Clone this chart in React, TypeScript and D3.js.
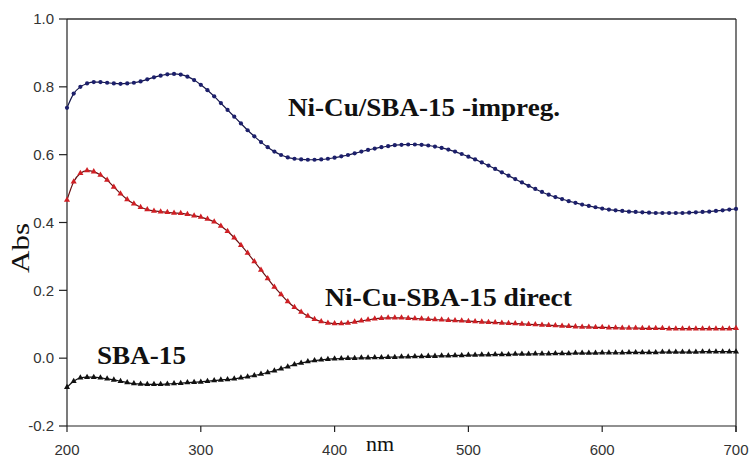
import React from 'react';
import * as d3 from 'd3';

// wavelength grid, 5 nm steps
const wavelengths = d3.range(200, 701, 5);

const impreg = [
  0.738, 0.78, 0.80, 0.81, 0.814, 0.814, 0.812, 0.81, 0.809, 0.81,
  0.812, 0.816, 0.822, 0.828, 0.833, 0.837, 0.838, 0.836, 0.83, 0.82,
  0.806, 0.79, 0.772, 0.752, 0.732, 0.712, 0.692, 0.672, 0.654, 0.637,
  0.622, 0.609, 0.599, 0.592, 0.588, 0.586, 0.585, 0.585, 0.586, 0.588,
  0.591, 0.595, 0.599, 0.604, 0.609, 0.614, 0.618, 0.622, 0.625, 0.628,
  0.629, 0.63, 0.63, 0.629, 0.627, 0.624, 0.62, 0.615, 0.609, 0.602,
  0.594, 0.586, 0.577, 0.568, 0.558, 0.548, 0.538, 0.528, 0.518, 0.508,
  0.499, 0.49, 0.482, 0.475, 0.469, 0.463, 0.458, 0.453, 0.449, 0.445,
  0.441, 0.438, 0.436, 0.434, 0.432, 0.431, 0.43, 0.429, 0.428, 0.428,
  0.428, 0.428, 0.428, 0.429, 0.43, 0.431, 0.432, 0.434, 0.436, 0.438,
  0.44,
];

const direct = [
  0.466, 0.52, 0.545, 0.553, 0.55, 0.54, 0.525, 0.505, 0.485, 0.468,
  0.455, 0.445, 0.438, 0.434, 0.432, 0.43, 0.428, 0.427, 0.424, 0.42,
  0.416, 0.41, 0.402, 0.39, 0.374, 0.355, 0.333, 0.31, 0.285, 0.26,
  0.235, 0.21, 0.188, 0.167, 0.15, 0.136, 0.124, 0.115, 0.108, 0.104,
  0.102, 0.102, 0.104, 0.107, 0.11, 0.113, 0.116, 0.118, 0.119, 0.119,
  0.119, 0.118, 0.117, 0.116, 0.115, 0.114, 0.113, 0.112, 0.111, 0.11,
  0.109, 0.108, 0.107, 0.106, 0.105, 0.104, 0.103, 0.102, 0.101, 0.1,
  0.099, 0.098, 0.097, 0.096, 0.095, 0.094, 0.093, 0.092, 0.092, 0.091,
  0.091, 0.09, 0.09, 0.089, 0.089, 0.089, 0.088, 0.088, 0.088, 0.088,
  0.087, 0.087, 0.087, 0.087, 0.087, 0.087, 0.087, 0.087, 0.087, 0.087,
  0.088,
];

const sba15 = [
  -0.086, -0.068, -0.058, -0.056, -0.056, -0.058, -0.061, -0.064, -0.068, -0.072,
  -0.075, -0.076, -0.077, -0.077, -0.077, -0.076, -0.075, -0.074, -0.072, -0.071,
  -0.07, -0.068, -0.066, -0.064, -0.063, -0.061, -0.058, -0.055, -0.051, -0.047,
  -0.042, -0.037, -0.031, -0.025, -0.019, -0.014, -0.01, -0.007, -0.005, -0.003,
  -0.002, -0.001, 0, 0, 0.001, 0.001, 0.002, 0.002, 0.003, 0.003,
  0.004, 0.004, 0.005, 0.005, 0.006, 0.006, 0.007, 0.007, 0.008, 0.008,
  0.009, 0.009, 0.01, 0.01, 0.011, 0.011, 0.011, 0.012, 0.012, 0.012,
  0.013, 0.013, 0.013, 0.014, 0.014, 0.014, 0.015, 0.015, 0.015, 0.015,
  0.016, 0.016, 0.016, 0.016, 0.017, 0.017, 0.017, 0.017, 0.017, 0.018,
  0.018, 0.018, 0.018, 0.018, 0.018, 0.019, 0.019, 0.019, 0.019, 0.019,
  0.019,
];

const xTicks = [200, 300, 400, 500, 600, 700];
const yTicks = [-0.2, 0.0, 0.2, 0.4, 0.6, 0.8, 1.0];

const series = [
  { name: 'impreg', values: impreg, color: '#1c1f6b', line: '#14164a', marker: 'circle' },
  { name: 'direct', values: direct, color: '#cf1f24', line: '#6b1012', marker: 'triangle' },
  { name: 'sba15', values: sba15, color: '#111111', line: '#111111', marker: 'triangle' },
];

const W = 752;
const H = 459;
const left = 67;
const right = 736;
const top = 19;
const bottom = 426;

const x = d3.scaleLinear().domain([200, 700]).range([left, right]);
const y = d3.scaleLinear().domain([-0.2, 1.0]).range([bottom, top]);

const tri = d3.symbol().type(d3.symbolTriangle).size(16)();
const circ = d3.symbol().type(d3.symbolCircle).size(14)();

const sans = '"Liberation Sans", Arial, sans-serif';
const serif = '"Liberation Serif", "Times New Roman", serif';

export default function App() {
  return (
    <svg width={W} height={H} style={{ position: 'absolute', left: 0, top: 0, background: '#fff' }}>
      {/* frame */}
      <line x1={left} x2={right} y1={top} y2={top} stroke="#333" strokeWidth={1.5} />
      <line x1={right} x2={right} y1={top} y2={bottom + 6} stroke="#222" strokeWidth={1.2} />
      <line x1={left} x2={left} y1={top} y2={bottom} stroke="#222" strokeWidth={1.2} />
      <line x1={left} x2={right} y1={bottom} y2={bottom} stroke="#222" strokeWidth={1.2} />

      {yTicks.map(t => (
        <g key={t}>
          <line x1={left - 8} x2={left} y1={y(t)} y2={y(t)} stroke="#222" strokeWidth={1.2} />
          <text x={left - 13} y={y(t)} dy="0.35em" textAnchor="end" fontFamily={sans} fontSize={15} fill="#333">
            {t.toFixed(1)}
          </text>
        </g>
      ))}
      {xTicks.map(t => (
        <g key={t}>
          <line x1={x(t)} x2={x(t)} y1={bottom} y2={bottom + 6} stroke="#222" strokeWidth={1.2} />
          <text x={x(t)} y={455} textAnchor="middle" fontFamily={sans} fontSize={15} fill="#333">
            {t}
          </text>
        </g>
      ))}

      {series.map(s => {
        const pts = wavelengths.map((w, i) => [x(w), y(s.values[i])] as [number, number]);
        const path = d3.line().curve(d3.curveMonotoneX)(pts) || '';
        return (
          <g key={s.name}>
            <path d={path} fill="none" stroke={s.line} strokeWidth={1.2} />
            {pts.map(([px, py], i) => (
              <path key={i} d={s.marker === 'circle' ? circ : tri} transform={`translate(${px},${py})`} fill={s.color} />
            ))}
          </g>
        );
      })}

      <text x={288} y={116} fontFamily={serif} fontWeight="bold" fontSize={26} textLength={272} lengthAdjust="spacingAndGlyphs" fill="#111">
        Ni-Cu/SBA-15 -impreg.
      </text>
      <text x={325} y={306} fontFamily={serif} fontWeight="bold" fontSize={26} textLength={247} lengthAdjust="spacingAndGlyphs" fill="#111">
        Ni-Cu-SBA-15 direct
      </text>
      <text x={97} y={364} fontFamily={serif} fontWeight="bold" fontSize={26} textLength={89} lengthAdjust="spacingAndGlyphs" fill="#111">
        SBA-15
      </text>

      <text transform="translate(29,248) rotate(-90)" textAnchor="middle" fontFamily={serif} fontSize={26} textLength={50} lengthAdjust="spacingAndGlyphs" fill="#111">
        Abs
      </text>
      <text x={380} y={451} textAnchor="middle" fontFamily={serif} fontSize={22} fill="#111">
        nm
      </text>
    </svg>
  );
}
